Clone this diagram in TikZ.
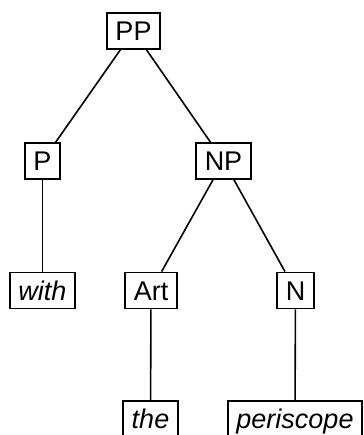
\documentclass[tikz,border=0pt]{standalone}
\usepackage{fontspec}
\setmainfont{Liberation Sans}
\begin{document}
\begin{tikzpicture}[x=1pt,y=-1pt,
  cat/.style={draw,line width=1.8pt,font=\fontsize{27}{31}\selectfont,
    inner xsep=8.5pt,inner ysep=0pt,text height=19.3pt,text depth=0pt,minimum height=36pt},
  word/.style={cat,font=\fontsize{27}{31}\selectfont\itshape},
  edge/.style={line width=1.6pt}]
\useasboundingbox (0,0) rectangle (363,435);
\node[cat] (PP) at (133.5,31) {PP};
\node[cat] (P) at (42.5,161) {P};
\node[cat] (NP) at (223.5,161) {NP};
\node[word] (with) at (42.5,290.5) {with};
\node[cat] (Art) at (151,290.5) {Art};
\node[cat] (N) at (295.5,290.5) {N};
\node[word] (the) at (150.5,419) {the};
\node[word] (periscope) at (295,419) {periscope};
\draw[edge] (PP) -- (P);
\draw[edge] (PP) -- (NP);
\draw[edge] (P) -- (with);
\draw[edge] (NP) -- (Art);
\draw[edge] (NP) -- (N);
\draw[edge] (Art) -- (the);
\draw[edge] (N) -- (periscope);
\end{tikzpicture}
\end{document}
